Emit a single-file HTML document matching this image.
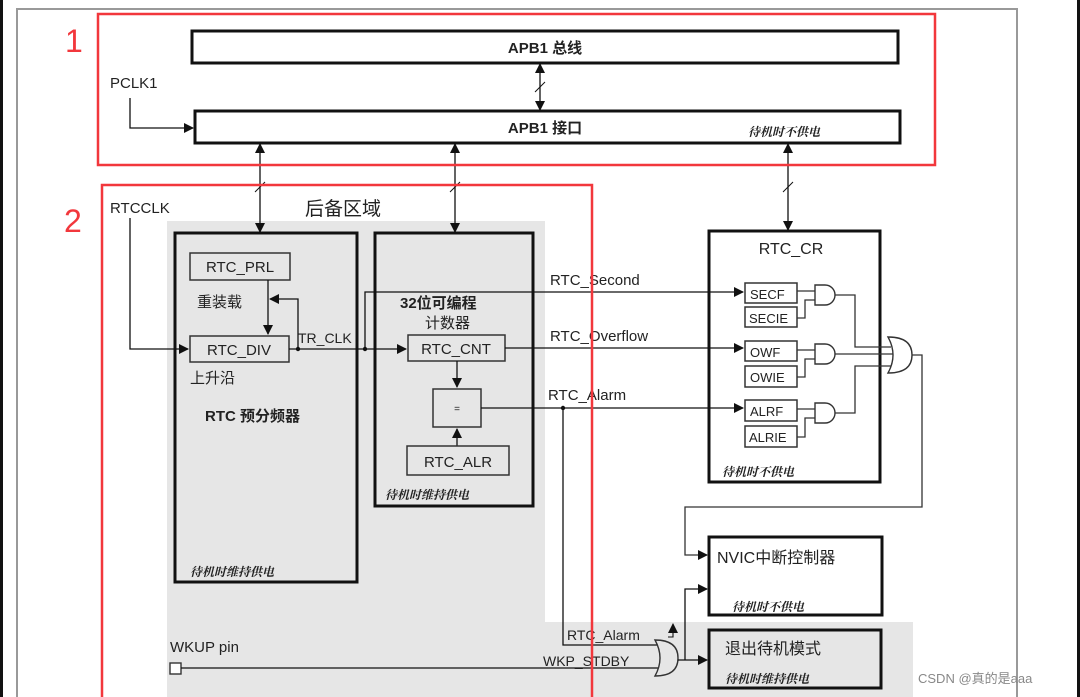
<!DOCTYPE html>
<html><head><meta charset="utf-8"><style>
html,body{margin:0;padding:0;background:#fff;}
svg{display:block;}
text{font-family:"Liberation Sans","Noto Sans CJK SC",sans-serif;fill:#222;}
.i{font-style:italic;font-weight:bold;font-size:12px;font-family:"Noto Serif CJK SC","Liberation Serif",serif;}
</style></head><body>
<svg width="1080" height="697" viewBox="0 0 1080 697" xmlns="http://www.w3.org/2000/svg">
<defs>
<marker id="a" markerWidth="10" markerHeight="10" refX="9" refY="5" orient="auto" markerUnits="userSpaceOnUse"><path d="M0,0 L10,5 L0,10 z" fill="#111"/></marker>
<marker id="s" markerWidth="10" markerHeight="10" refX="1" refY="5" orient="auto" markerUnits="userSpaceOnUse"><path d="M10,0 L0,5 L10,10 z" fill="#111"/></marker>
</defs>
<rect x="0" y="0" width="1080" height="697" fill="#fff"/>
<rect x="0" y="0" width="3" height="697" fill="#111"/>
<rect x="1077" y="0" width="3" height="697" fill="#111"/>
<path d="M17,697 V9 H1017 V697" fill="none" stroke="#999" stroke-width="2"/>
<!-- gray regions -->
<rect x="167" y="221" width="378" height="476" fill="#e6e6e6"/>
<rect x="545" y="622" width="368" height="75" fill="#e6e6e6"/>

<!-- APB boxes -->
<rect x="192" y="31" width="706" height="32" fill="#fff" stroke="#111" stroke-width="3"/>
<text x="545" y="53" font-size="15" font-weight="bold" text-anchor="middle">APB1 总线</text>
<rect x="195" y="111" width="705" height="32" fill="#fff" stroke="#111" stroke-width="3"/>
<text x="545" y="133" font-size="15" font-weight="bold" text-anchor="middle">APB1 接口</text>
<text x="748" y="136" class="i">待机时不供电</text>
<text x="110" y="88" font-size="15">PCLK1</text>
<path d="M130,98 V128 H193" fill="none" stroke="#111" stroke-width="1.3" marker-end="url(#a)"/>
<line x1="540" y1="64" x2="540" y2="110" stroke="#111" stroke-width="1.3" marker-start="url(#s)" marker-end="url(#a)"/>
<line x1="535" y1="92" x2="545" y2="82" stroke="#111" stroke-width="1"/>

<!-- vertical bus arrows -->
<line x1="260" y1="144" x2="260" y2="232" stroke="#111" stroke-width="1.3" marker-start="url(#s)" marker-end="url(#a)"/>
<line x1="255" y1="192" x2="265" y2="182" stroke="#111" stroke-width="1"/>
<line x1="455" y1="144" x2="455" y2="232" stroke="#111" stroke-width="1.3" marker-start="url(#s)" marker-end="url(#a)"/>
<line x1="450" y1="192" x2="460" y2="182" stroke="#111" stroke-width="1"/>
<line x1="788" y1="144" x2="788" y2="230" stroke="#111" stroke-width="1.3" marker-start="url(#s)" marker-end="url(#a)"/>
<line x1="783" y1="192" x2="793" y2="182" stroke="#111" stroke-width="1"/>

<text x="305" y="215" font-size="19">后备区域</text>
<text x="110" y="213" font-size="15">RTCCLK</text>

<!-- prescaler -->
<rect x="175" y="233" width="182" height="349" fill="none" stroke="#111" stroke-width="3"/>
<rect x="190" y="253" width="100" height="27" fill="none" stroke="#333" stroke-width="1.5"/>
<text x="240" y="272" font-size="15" text-anchor="middle">RTC_PRL</text>
<text x="197" y="307" font-size="15">重装载</text>
<rect x="190" y="336" width="99" height="26" fill="none" stroke="#333" stroke-width="1.5"/>
<text x="239" y="355" font-size="15" text-anchor="middle">RTC_DIV</text>
<text x="190" y="383" font-size="15">上升沿</text>
<text x="205" y="421" font-size="15" font-weight="bold">RTC 预分频器</text>
<text x="190" y="576" class="i">待机时维持供电</text>
<path d="M130,218 V349 H188" fill="none" stroke="#111" stroke-width="1.3" marker-end="url(#a)"/>
<line x1="268" y1="280" x2="268" y2="334" stroke="#111" stroke-width="1.3" marker-end="url(#a)"/>
<path d="M298,349 V299 H270" fill="none" stroke="#111" stroke-width="1.3" marker-end="url(#a)"/>
<circle cx="298" cy="349" r="2.2" fill="#111"/>
<text x="298" y="343" font-size="14">TR_CLK</text>
<path d="M289,349 H406" fill="none" stroke="#111" stroke-width="1.3" marker-end="url(#a)"/>
<circle cx="365" cy="349" r="2.2" fill="#111"/>
<path d="M365,349 V292 H743" fill="none" stroke="#111" stroke-width="1.3" marker-end="url(#a)"/>

<!-- counter -->
<rect x="375" y="233" width="158" height="273" fill="none" stroke="#111" stroke-width="3"/>
<text x="400" y="308" font-size="15" font-weight="bold">32位可编程</text>
<text x="425" y="328" font-size="15">计数器</text>
<rect x="408" y="335" width="97" height="26" fill="none" stroke="#333" stroke-width="1.5"/>
<text x="456" y="354" font-size="15" text-anchor="middle">RTC_CNT</text>
<line x1="457" y1="361" x2="457" y2="387" stroke="#111" stroke-width="1.3" marker-end="url(#a)"/>
<rect x="433" y="389" width="48" height="38" fill="none" stroke="#333" stroke-width="1.5"/>
<text x="457" y="412" font-size="10" text-anchor="middle">=</text>
<line x1="457" y1="446" x2="457" y2="429" stroke="#111" stroke-width="1.3" marker-end="url(#a)"/>
<rect x="407" y="446" width="102" height="29" fill="none" stroke="#333" stroke-width="1.5"/>
<text x="458" y="467" font-size="15" text-anchor="middle">RTC_ALR</text>
<text x="385" y="499" class="i">待机时维持供电</text>

<!-- signals -->
<text x="550" y="285" font-size="15">RTC_Second</text>
<line x1="505" y1="348" x2="743" y2="348" stroke="#111" stroke-width="1.3" marker-end="url(#a)"/>
<text x="550" y="341" font-size="15">RTC_Overflow</text>
<line x1="481" y1="408" x2="743" y2="408" stroke="#111" stroke-width="1.3" marker-end="url(#a)"/>
<text x="548" y="400" font-size="15">RTC_Alarm</text>
<circle cx="563" cy="408" r="2.2" fill="#111"/>
<path d="M563,408 V645 H660" fill="none" stroke="#111" stroke-width="1.3"/>

<!-- RTC_CR -->
<rect x="709" y="231" width="171" height="251" fill="none" stroke="#111" stroke-width="3"/>
<text x="791" y="254" font-size="16" text-anchor="middle">RTC_CR</text>
<g font-size="13" stroke="none">
<rect x="745" y="283" width="52" height="20" fill="none" stroke="#333" stroke-width="1.5"/><text x="750" y="299">SECF</text>
<rect x="745" y="307" width="52" height="20" fill="none" stroke="#333" stroke-width="1.5"/><text x="749" y="323">SECIE</text>
<rect x="745" y="341" width="52" height="20" fill="none" stroke="#333" stroke-width="1.5"/><text x="750" y="357">OWF</text>
<rect x="745" y="366" width="52" height="21" fill="none" stroke="#333" stroke-width="1.5"/><text x="750" y="382">OWIE</text>
<rect x="745" y="400" width="52" height="21" fill="none" stroke="#333" stroke-width="1.5"/><text x="750" y="416">ALRF</text>
<rect x="745" y="426" width="52" height="21" fill="none" stroke="#333" stroke-width="1.5"/><text x="749" y="442">ALRIE</text>
</g>
<g fill="#fff" stroke="#333" stroke-width="1.4">
<path d="M815,285 H825 A10,10 0 0 1 825,305 H815 Z"/>
<path d="M815,344 H825 A10,10 0 0 1 825,364 H815 Z"/>
<path d="M815,403 H825 A10,10 0 0 1 825,423 H815 Z"/>
</g>
<g fill="none" stroke="#333" stroke-width="1.3">
<path d="M797,291 H815"/><path d="M797,318 H805 V300 H815"/>
<path d="M797,350 H815"/><path d="M797,377 H805 V359 H815"/>
<path d="M797,409 H815"/><path d="M797,437 H805 V418 H815"/>
<path d="M835,295 H855 V347 H891"/>
<path d="M835,354 H893"/>
<path d="M835,413 H855 V366 H891"/>
<path d="M910,355 H922 V507 H685 V555 H707" marker-end="url(#a)"/>
</g>
<path d="M888,337 Q912,337 912,355 Q912,373 888,373 Q898,355 888,337 Z" fill="#fff" stroke="#333" stroke-width="1.4"/>
<text x="722" y="476" class="i">待机时不供电</text>

<!-- NVIC -->
<rect x="709" y="537" width="173" height="78" fill="#fff" stroke="#111" stroke-width="3"/>
<text x="717" y="563" font-size="16">NVIC中断控制器</text>
<text x="732" y="611" class="i">待机时不供电</text>
<rect x="709" y="630" width="172" height="58" fill="none" stroke="#111" stroke-width="3"/>
<text x="725" y="654" font-size="16">退出待机模式</text>
<text x="725" y="683" class="i">待机时维持供电</text>

<!-- WKUP -->
<text x="170" y="652" font-size="15">WKUP pin</text>
<rect x="170" y="663" width="11" height="11" fill="#fff" stroke="#333" stroke-width="1.4"/>
<line x1="181" y1="668" x2="658" y2="668" stroke="#111" stroke-width="1.3"/>
<text x="567" y="640" font-size="14">RTC_Alarm</text>
<text x="543" y="666" font-size="14">WKP_STDBY</text>
<path d="M655,640 Q678,640 678,658 Q678,676 655,676 Q665,658 655,640 Z" fill="#e6e6e6" stroke="#333" stroke-width="1.4"/>
<path d="M678,660 H707" fill="none" stroke="#111" stroke-width="1.3" marker-end="url(#a)"/>
<path d="M685,660 V589 H707" fill="none" stroke="#111" stroke-width="1.3" marker-end="url(#a)"/>
<path d="M668,637 H673 V624" fill="none" stroke="#111" stroke-width="1.1" marker-end="url(#a)"/>

<!-- red boxes -->
<rect x="98" y="14" width="837" height="151" fill="none" stroke="#f2373c" stroke-width="2.5"/>
<rect x="102" y="185" width="490" height="520" fill="none" stroke="#f2373c" stroke-width="2.5"/>
<text x="65" y="52" font-size="32" style="fill:#f2373c">1</text>
<text x="64" y="232" font-size="32" style="fill:#f2373c">2</text>

<text x="918" y="683" font-size="13" style="fill:#888">CSDN @真的是aaa</text>
</svg>
</body></html>
